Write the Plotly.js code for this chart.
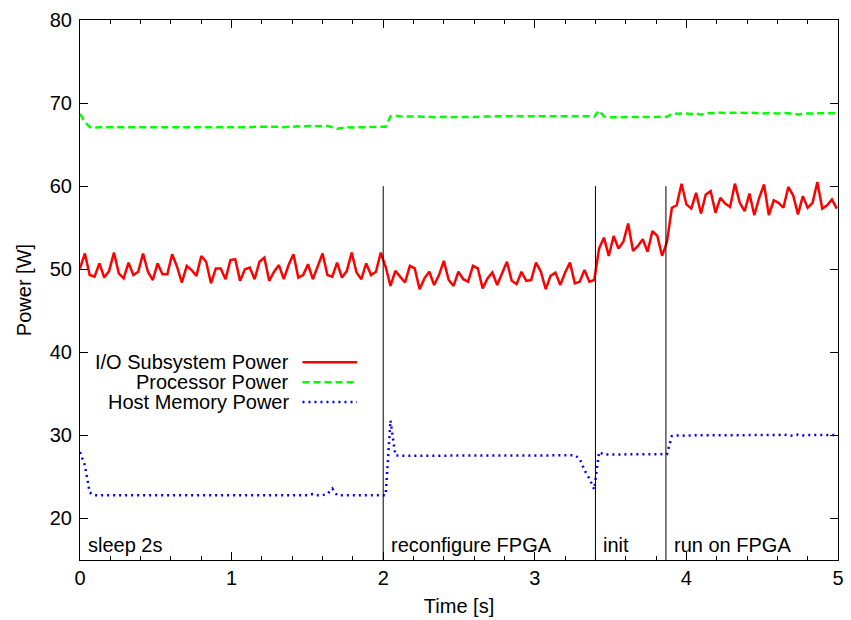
<!DOCTYPE html>
<html>
<head>
<meta charset="utf-8">
<script src="https://cdn.plot.ly/plotly-3.0.1.min.js"></script>
<style>html,body{margin:0;padding:0;background:#fff;}#chart{width:851px;height:620px;}</style>
</head>
<body>
<div id="chart"></div>
<script>
// sample times [s]
const time = [
0,0.032,0.064,0.096,0.128,0.16,0.192,0.224,0.256,0.288,
0.32,0.352,0.384,0.416,0.448,0.48,0.512,0.544,0.576,0.608,
0.64,0.672,0.704,0.736,0.768,0.8,0.832,0.864,0.896,0.928,
0.96,0.992,1.024,1.056,1.088,1.12,1.152,1.184,1.216,1.248,
1.28,1.312,1.344,1.376,1.408,1.44,1.472,1.504,1.536,1.568,
1.6,1.632,1.664,1.696,1.728,1.76,1.792,1.824,1.856,1.888,
1.92,1.952,1.984,2.016,2.048,2.08,2.112,2.144,2.176,2.208,
2.24,2.272,2.304,2.336,2.368,2.4,2.432,2.464,2.496,2.528,
2.56,2.592,2.624,2.656,2.688,2.72,2.752,2.784,2.816,2.848,
2.88,2.912,2.944,2.976,3.008,3.04,3.072,3.104,3.136,3.168,
3.2,3.232,3.264,3.296,3.328,3.36,3.392,3.424,3.456,3.488,
3.52,3.552,3.584,3.616,3.648,3.68,3.712,3.744,3.776,3.808,
3.84,3.872,3.904,3.936,3.968,4,4.032,4.064,4.096,4.128,
4.16,4.192,4.224,4.256,4.288,4.32,4.352,4.384,4.416,4.448,
4.48,4.512,4.544,4.576,4.608,4.64,4.672,4.704,4.736,4.768,
4.8,4.832,4.864,4.896,4.928,4.96,4.992
];

// I/O Subsystem Power [W]
const ioPower = [
50.1,51.9,49.3,49.1,50.7,49.0,49.8,52.0,49.5,48.9,
50.8,49.3,49.7,51.9,49.7,48.7,50.7,49.4,49.4,51.8,
50.3,48.4,50.4,49.9,49.2,51.6,50.9,48.3,50.1,50.1,
48.8,51.1,51.2,48.6,50.0,50.2,48.8,50.9,51.4,48.6,
49.7,50.5,48.8,50.5,51.8,49.0,49.3,50.6,48.8,50.3,
51.9,49.3,49.1,50.8,49.0,49.8,52.0,49.6,48.8,50.7,
49.3,49.7,52.0,50.3,48.0,49.8,49.1,48.4,50.4,50.1,
47.6,48.9,49.7,48.1,49.3,51.0,48.7,48.0,49.7,48.8,
48.5,50.4,50.1,47.7,48.9,49.6,48.1,49.5,50.9,48.6,
48.2,49.7,48.6,48.7,50.8,49.7,47.6,49.2,49.6,48.1,
49.6,50.8,48.3,48.5,49.9,48.5,48.7,52.5,53.8,51.6,
54.0,52.5,53.3,55.5,52.2,52.8,53.6,52.1,54.6,54.0,
51.6,53.3,57.4,57.7,60.3,57.8,57.3,59.2,56.7,59.0,
59.4,56.8,58.6,57.9,57.5,60.3,58.0,57.0,59.1,56.5,
58.6,60.2,56.5,58.3,58.0,57.4,59.9,58.9,56.6,58.8,
57.4,58.0,60.5,57.3,57.7,58.4,57.3
];

// Processor Power [W]
const cpuPower = [
68.7,67.75,67.1,67.05,67.1,67.1,67.05,67.1,67.1,67.05,
67.1,67.1,67.05,67.1,67.05,67.1,67.1,67.05,67.1,67.05,
67.1,67.05,67.1,67.05,67.1,67.05,67.05,67.1,67.05,67.1,
67.05,67.1,67.05,67.1,67.1,67.1,67.15,67.15,67.2,67.15,
67.15,67.15,67.1,67.15,67.15,67.2,67.15,67.25,67.25,67.2,
67.25,67.25,67.1,66.9,67.0,67.1,67.05,67.1,67.1,67.1,
67.1,67.1,67.1,67.15,68.4,68.45,68.4,68.4,68.35,68.35,
68.35,68.35,68.35,68.3,68.35,68.35,68.3,68.3,68.35,68.35,
68.35,68.35,68.35,68.35,68.4,68.35,68.4,68.4,68.4,68.4,
68.4,68.4,68.4,68.45,68.4,68.45,68.4,68.4,68.4,68.4,
68.4,68.4,68.4,68.4,68.4,68.4,68.35,69.1,68.4,68.3,
68.3,68.3,68.3,68.3,68.3,68.3,68.3,68.3,68.3,68.35,
68.3,68.35,68.7,68.75,68.75,68.75,68.7,68.75,68.6,68.75,
68.8,68.8,68.85,68.8,68.85,68.85,68.85,68.8,68.85,68.8,
68.8,68.75,68.8,68.75,68.75,68.8,68.75,68.75,68.6,68.75,
68.75,68.75,68.75,68.75,68.75,68.75,68.8
];

// Host Memory Power [W]
const memPower = [
28.0,26.4,23.1,22.8,22.8,22.8,22.8,22.85,22.8,22.8,
22.8,22.8,22.8,22.8,22.8,22.8,22.8,22.8,22.85,22.8,
22.8,22.8,22.8,22.8,22.8,22.85,22.8,22.8,22.8,22.8,
22.8,22.8,22.8,22.8,22.8,22.8,22.8,22.8,22.8,22.8,
22.8,22.8,22.8,22.8,22.8,22.8,22.8,22.8,22.95,22.8,
22.8,22.95,23.6,22.8,22.8,22.8,22.8,22.8,22.8,22.8,
22.8,22.8,22.8,22.8,31.8,27.6,27.55,27.55,27.55,27.55,
27.55,27.55,27.55,27.6,27.55,27.55,27.55,27.55,27.55,27.55,
27.55,27.55,27.55,27.55,27.6,27.6,27.55,27.6,27.6,27.6,
27.6,27.6,27.6,27.6,27.6,27.6,27.6,27.6,27.6,27.6,
27.6,27.6,27.6,27.2,25.8,24.8,23.5,28.0,27.7,27.7,
27.7,27.7,27.7,27.7,27.7,27.7,27.75,27.7,27.7,27.7,
27.7,27.75,29.9,30.0,30.0,29.95,30.0,30.0,30.05,30.0,
30.0,30.05,30.0,30.0,30.05,30.05,30.0,30.05,30.05,30.0,
30.05,30.05,30.05,30.0,30.05,30.1,30.0,29.95,30.1,30.0,
30.05,30.05,30.0,30.0,30.0,30.0,30.05
];

const seriesNames = ["I/O Subsystem Power", "Processor Power", "Host Memory Power"];
const phaseBounds = [2, 3.4, 3.865];
const phaseStarts = [0, 2, 3.4, 3.865];
const phaseLabels = ["sleep 2s", "reconfigure FPGA", "init", "run on FPGA"];
const xTickVals = [0, 1, 2, 3, 4, 5];
const yTickVals = [20, 30, 40, 50, 60, 70, 80];

const FONT = "Liberation Sans, Arial, Helvetica, sans-serif";
const FS = 20;
const colors = ["#ff0000", "#00ff00", "#0000ff"];
const dashes = ["solid", "7px,4px", "2px,4px"];
const ys = [ioPower, cpuPower, memPower];

const traces = ys.map((y, i) => ({
  x: time, y: y, type: "scatter", mode: "lines", name: seriesNames[i],
  line: {color: colors[i], width: 2.5, dash: dashes[i]},
  showlegend: false, hoverinfo: "skip"
}));

const shapes = phaseBounds.map(b => ({
  type: "line", xref: "x", yref: "y", x0: b, x1: b, y0: 15, y1: 60,
  line: {color: "#000", width: 1}
}));

const annotations = phaseStarts.map((s, i) => ({
  x: s, y: 16.75, xref: "x", yref: "y", text: phaseLabels[i],
  showarrow: false, xanchor: "left", yanchor: "middle", xshift: 6,
  font: {family: FONT, size: FS, color: "#000"}
}));

// legend (gnuplot style: text right-aligned, sample to the right)
const legY = [0.3661, 0.3291, 0.2926];
seriesNames.forEach((n, i) => {
  annotations.push({
    x: 0.278, y: legY[i], xref: "paper", yref: "paper", text: n,
    showarrow: false, xanchor: "right", yanchor: "middle",
    font: {family: FONT, size: FS, color: "#000"}
  });
  shapes.push({
    type: "line", xref: "paper", yref: "paper", x0: 0.2935, x1: 0.3655,
    y0: legY[i], y1: legY[i],
    line: {color: colors[i], width: 2.5, dash: dashes[i]}
  });
});

const axisCommon = {
  showline: true, linecolor: "#000", linewidth: 1, mirror: "ticks",
  ticks: "inside", ticklen: 8, tickwidth: 1, tickcolor: "#000",
  showgrid: false, zeroline: false,
  tickfont: {family: FONT, size: FS, color: "#000"}
};

const layout = {
  width: 851, height: 620,
  margin: {l: 80, r: 13, t: 20, b: 60},
  paper_bgcolor: "#fff", plot_bgcolor: "#fff",
  font: {family: FONT, size: FS, color: "#000"},
  xaxis: Object.assign({}, axisCommon, {
    range: [0, 5], tickvals: xTickVals, ticktext: xTickVals.map(String),
    minor: {dtick: 0.2, tick0: 0, ticks: "inside", ticklen: 4, tickcolor: "#000", tickwidth: 1, showgrid: false},
    title: {text: "Time [s]", font: {family: FONT, size: FS, color: "#000"}, standoff: 10},
    automargin: false
  }),
  yaxis: Object.assign({}, axisCommon, {
    range: [15, 80], tickvals: yTickVals, ticktext: yTickVals.map(String),
    ticklabelstandoff: 3,
    title: {text: "Power [W]", font: {family: FONT, size: FS, color: "#000"}, standoff: 12},
    automargin: false
  }),
  shapes: shapes,
  annotations: annotations,
  showlegend: false
};

Plotly.newPlot("chart", traces, layout, {displayModeBar: false, staticPlot: true});
</script>
</body>
</html>
